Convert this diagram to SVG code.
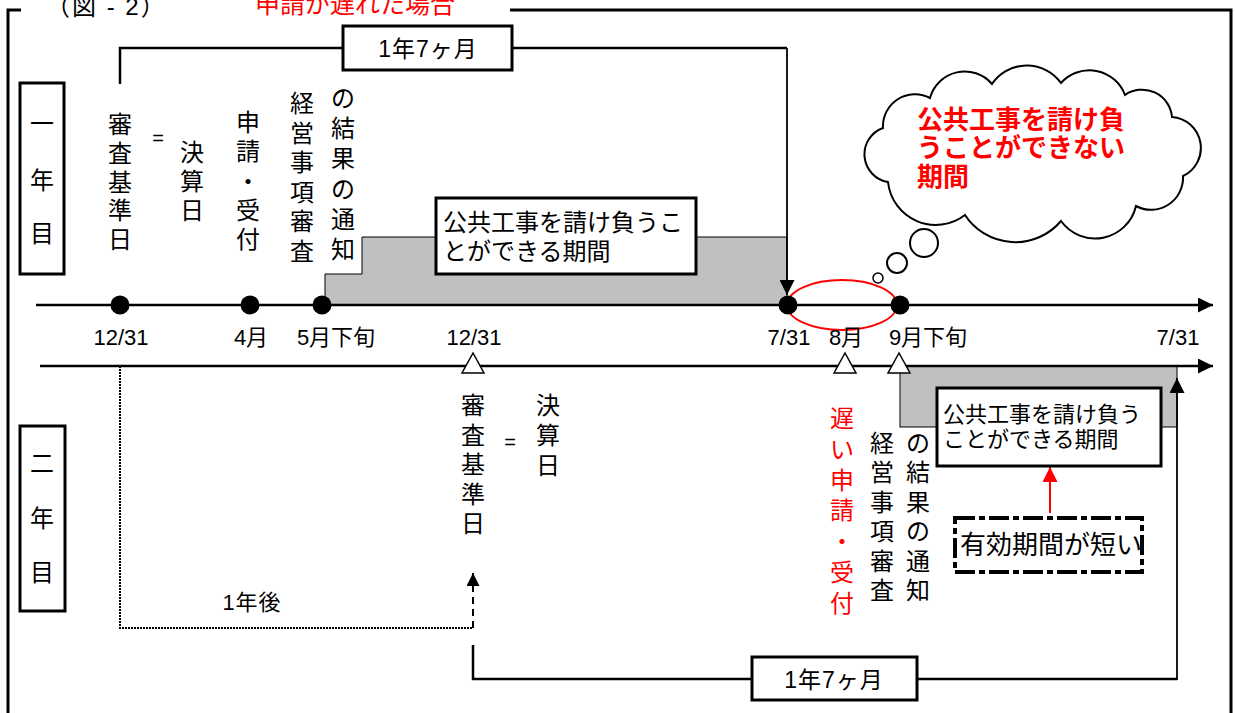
<svg xmlns="http://www.w3.org/2000/svg" width="1235" height="713" viewBox="0 0 1235 713">
<defs>
<style>
.t{font-family:"Liberation Sans","Noto Sans CJK JP",sans-serif;fill:#000}
.red{fill:#f00}
.v{text-anchor:middle;font-size:24px}
.c{text-anchor:middle}
.lbl{font-size:22px;text-anchor:middle}
.box{fill:#fff;stroke:#000;stroke-width:3}
.gray{fill:#c0c0c0;stroke:#000;stroke-width:1}
.axis{stroke:#000;stroke-width:2.5;fill:none}
.conn{stroke:#000;stroke-width:2.5;fill:none}
.thin{stroke:#000;stroke-width:1.8;fill:none}
.dot{fill:#000}
.tri{fill:#fff;stroke:#000;stroke-width:1.5}
</style>
<marker id="ah" viewBox="0 0 10 10" refX="10" refY="5" markerWidth="15" markerHeight="15" markerUnits="userSpaceOnUse" orient="auto"><path d="M0,0 L10,5 L0,10 z" fill="#000"/></marker>
<marker id="ahs" viewBox="0 0 10 10" refX="10" refY="5" markerWidth="13" markerHeight="13" markerUnits="userSpaceOnUse" orient="auto"><path d="M0,0 L10,5 L0,10 z" fill="#000"/></marker>
<marker id="ahr" viewBox="0 0 10 10" refX="10" refY="5" markerWidth="15" markerHeight="15" markerUnits="userSpaceOnUse" orient="auto"><path d="M0,0 L10,5 L0,10 z" fill="#f00"/></marker>
</defs>
<rect width="1235" height="713" fill="#fff"/>

<g id="frame">
<path d="M8,713 V10 H21 M510,10 H1231 V713" fill="none" stroke="#000" stroke-width="3"/>
<text class="t" x="46" y="15" font-size="24" letter-spacing="2">（図 - 2）</text>
<text class="t red" x="255" y="13" font-size="25">申請が遅れた場合</text>
</g>

<g id="shading">
<path class="gray" d="M325,305 V274 H362 V237 H787 V305 Z"/>
<rect class="gray" x="900" y="366" width="277" height="61"/>
</g>

<g id="connectors">
<line class="axis" x1="36" y1="305" x2="1213" y2="305" marker-end="url(#ah)"/>
<line class="axis" x1="40" y1="366" x2="1213" y2="366" marker-end="url(#ah)"/>
<path class="conn" d="M120,84 V48 H343 M512,48 H787"/>
<line class="thin" x1="787" y1="48" x2="787" y2="295" marker-end="url(#ah)"/>
<path d="M120,366 V628 H473" fill="none" stroke="#000" stroke-width="2" stroke-dasharray="2 1"/>
<line x1="473" y1="628" x2="473" y2="573" stroke="#000" stroke-width="2" stroke-dasharray="7 5" marker-end="url(#ahs)"/>
<path class="conn" d="M473,645 V679 H752 M917,679 H1177"/>
<line class="thin" x1="1177" y1="680" x2="1177" y2="378" marker-end="url(#ah)"/>
<line x1="1050" y1="513" x2="1050" y2="467" stroke="#f00" stroke-width="2" marker-end="url(#ahr)"/>
<ellipse cx="842" cy="305" rx="55" ry="25" fill="none" stroke="#f00" stroke-width="1.8"/>
</g>

<g id="dots">
<circle class="dot" cx="120" cy="305" r="9.5"/>
<circle class="dot" cx="250" cy="305" r="9.5"/>
<circle class="dot" cx="322" cy="305" r="9.5"/>
<circle class="dot" cx="788" cy="305" r="9.5"/>
<circle class="dot" cx="900" cy="305" r="9.5"/>
<polygon class="tri" points="473,353 462,373 484,373"/>
<polygon class="tri" points="845,353 834,373 856,373"/>
<polygon class="tri" points="899,353 888,373 910,373"/>
</g>

<g id="axis-labels">
<text class="t lbl" x="121" y="345">12/31</text>
<text class="t lbl" x="251" y="345">4月</text>
<text class="t lbl" x="336" y="345">5月下旬</text>
<text class="t lbl" x="474" y="345">12/31</text>
<text class="t lbl" x="789" y="345">7/31</text>
<text class="t lbl" x="846" y="345">8月</text>
<text class="t lbl" x="928" y="345">9月下旬</text>
<text class="t lbl" x="1178" y="345">7/31</text>
</g>

<g id="year1-label">
<rect class="box" x="20" y="83" width="44" height="191"/>
<text class="t v" x="42" y="132"><tspan x="42">一</tspan><tspan x="42" dy="57">年</tspan><tspan x="42" dy="53">目</tspan></text>
</g>

<g id="year2-label">
<rect class="box" x="20" y="426" width="45" height="185"/>
<text class="t v" x="42" y="472"><tspan x="42">二</tspan><tspan x="42" dy="55">年</tspan><tspan x="42" dy="54">目</tspan></text>
</g>

<g id="y1-kijunbi">
<text class="t v" x="120" y="133"><tspan x="120">審</tspan><tspan x="120" dy="28.75">査</tspan><tspan x="120" dy="28.75">基</tspan><tspan x="120" dy="28.75">準</tspan><tspan x="120" dy="28.75">日</tspan></text>
<text class="t c" x="158" y="145" font-size="20">=</text>
<text class="t v" x="192" y="161"><tspan x="192">決</tspan><tspan x="192" dy="29">算</tspan><tspan x="192" dy="29">日</tspan></text>
</g>

<g id="y1-shinsei">
<text class="t v" x="248" y="131"><tspan x="248">申</tspan><tspan x="248" dy="29.25">請</tspan><tspan x="248" dy="29.25">・</tspan><tspan x="248" dy="29.25">受</tspan><tspan x="248" dy="29.25">付</tspan></text>
</g>

<g id="y1-keishin">
<text class="t v" x="302" y="112"><tspan x="302">経</tspan><tspan x="302" dy="29.6">営</tspan><tspan x="302" dy="29.6">事</tspan><tspan x="302" dy="29.6">項</tspan><tspan x="302" dy="29.6">審</tspan><tspan x="302" dy="29.6">査</tspan></text>
<text class="t v" x="343" y="107"><tspan x="343">の</tspan><tspan x="343" dy="30.2">結</tspan><tspan x="343" dy="30.2">果</tspan><tspan x="343" dy="30.2">の</tspan><tspan x="343" dy="30.2">通</tspan><tspan x="343" dy="30.2">知</tspan></text>
</g>

<g id="period-box-top">
<rect class="box" x="343" y="26" width="169" height="44"/>
<text class="t c" x="428" y="57" font-size="23" letter-spacing="1">1年7ヶ月</text>
</g>

<g id="y1-period">
<rect class="box" x="436" y="198" width="260" height="76"/>
<text class="t" x="443" y="231" font-size="24">公共工事を請け負うこ</text>
<text class="t" x="443" y="260" font-size="24">とができる期間</text>
</g>

<g id="cloud">
<path d="M888,182 A28,28 0 0 1 883,128 A32,32 0 0 1 930,98 A36,36 0 0 1 992,84 A42,42 0 0 1 1061,83 A38,38 0 0 1 1125,95 A30,30 0 0 1 1172,117 A31,31 0 0 1 1183,176 A32,32 0 0 1 1136,206 A42,42 0 0 1 1061,221 A60,60 0 0 1 965,215 A48,48 0 0 1 888,182 Z" fill="#fff" stroke="#000" stroke-width="2"/>
<circle cx="924" cy="243" r="14" fill="#fff" stroke="#000" stroke-width="2"/>
<circle cx="897" cy="263" r="10" fill="#fff" stroke="#000" stroke-width="2"/>
<circle cx="878" cy="278" r="5" fill="#fff" stroke="#000" stroke-width="1.5"/>
<text class="t red" x="917" y="129" font-size="26" font-weight="bold">公共工事を請け負</text>
<text class="t red" x="917" y="157" font-size="26" font-weight="bold">うことができない</text>
<text class="t red" x="917" y="186" font-size="26" font-weight="bold">期間</text>
</g>

<g id="y2-kijunbi">
<text class="t v" x="473" y="414"><tspan x="473">審</tspan><tspan x="473" dy="29.5">査</tspan><tspan x="473" dy="29.5">基</tspan><tspan x="473" dy="29.5">準</tspan><tspan x="473" dy="29.5">日</tspan></text>
<text class="t c" x="510" y="449" font-size="20">=</text>
<text class="t v" x="548" y="414"><tspan x="548">決</tspan><tspan x="548" dy="30">算</tspan><tspan x="548" dy="30">日</tspan></text>
</g>

<g id="y2-late">
<text class="t v red" x="842" y="427"><tspan x="842">遅</tspan><tspan x="842" dy="30.8">い</tspan><tspan x="842" dy="30.8">申</tspan><tspan x="842" dy="30.8">請</tspan><tspan x="842" dy="30.8">・</tspan><tspan x="842" dy="30.8">受</tspan><tspan x="842" dy="30.8">付</tspan></text>
</g>

<g id="y2-keishin">
<text class="t v" x="882" y="452"><tspan x="882">経</tspan><tspan x="882" dy="29.4">営</tspan><tspan x="882" dy="29.4">事</tspan><tspan x="882" dy="29.4">項</tspan><tspan x="882" dy="29.4">審</tspan><tspan x="882" dy="29.4">査</tspan></text>
<text class="t v" x="918" y="452"><tspan x="918">の</tspan><tspan x="918" dy="29.4">結</tspan><tspan x="918" dy="29.4">果</tspan><tspan x="918" dy="29.4">の</tspan><tspan x="918" dy="29.4">通</tspan><tspan x="918" dy="29.4">知</tspan></text>
</g>

<g id="y2-period">
<rect class="box" x="937" y="388" width="224" height="78"/>
<text class="t" x="943" y="422" font-size="22">公共工事を請け負う</text>
<text class="t" x="943" y="447" font-size="22">ことができる期間</text>
</g>

<g id="short-note">
<rect x="955" y="518" width="187" height="54" fill="#fff"/>
<text class="t" x="960" y="554" font-size="26">有効期間が短い</text>
<rect x="955" y="518" width="187" height="54" fill="none" stroke="#000" stroke-width="4" stroke-dasharray="20 4 6 4"/>
</g>

<g id="one-year-later">
<text class="t c" x="252" y="610" font-size="22" letter-spacing="1">1年後</text>
</g>

<g id="period-box-bottom">
<rect class="box" x="752" y="657" width="165" height="43"/>
<text class="t c" x="834" y="688" font-size="23" letter-spacing="1">1年7ヶ月</text>
</g>
</svg>
